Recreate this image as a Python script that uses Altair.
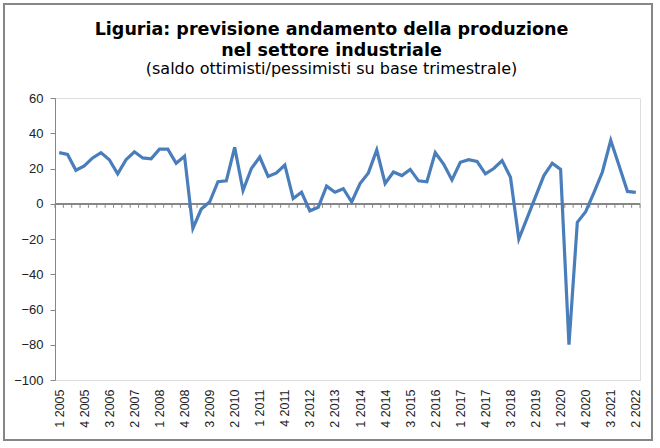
import altair as alt
import pandas as pd

# Quarterly balance (optimists minus pessimists), Q1 2005 - Q2 2022
years = list(range(2005, 2023))
quarters = [f"{q} {y}" for y in years for q in (1, 2, 3, 4)][:70]
saldo = [
    29, 28, 19, 21.5, 26, 29, 25, 17, 25, 29.5,
    26, 25.5, 31, 31, 23, 27, -14, -3, 1, 12.5,
    13, 32, 7.5, 20, 26.5, 15.5, 17.5, 22, 3, 6.5,
    -4, -2, 10, 6.5, 8.5, 1, 11.5, 17.5, 30.5, 11.5,
    18, 16, 19.5, 13, 12.5, 29, 22.5, 13.5, 23.5, 25,
    24, 17, 20, 24.5, 15, -20, -8, 4, 16, 23,
    19.5, -80, -10.5, -4.5, 6.5, 18, 36, 21.5, 7, 6.5,
]
y_ticks = [-100, -80, -60, -40, -20, 0, 20, 40, 60]
shown_labels = list(range(0, len(quarters), 3))

df = pd.DataFrame({"i": range(len(quarters)), "trimestre": quarters, "saldo": saldo})
edges = pd.DataFrame({"b": [k - 0.5 for k in range(len(quarters) + 1)]})

GRID = "#868686"
label_js = "[" + ",".join(f"'{q}'" for q in quarters) + "]"

x_scale = alt.Scale(domain=[-0.5, len(quarters) - 0.5], nice=False, zero=False)
y_scale = alt.Scale(domain=[-100, 60], nice=False)

x_axis = alt.Axis(
    values=shown_labels,
    tickCount=len(shown_labels),
    labelExpr=f"{label_js}[datum.value]",
    labelAngle=270,
    labelOverlap=False,
    labelFont="Liberation Sans",
    labelFontSize=12.5,
    labelColor="#222222",
    labelPadding=9,
    ticks=False,
    domain=False,
    grid=False,
    title=None,
)
y_axis = alt.Axis(
    values=y_ticks,
    tickCount=len(y_ticks),
    labelOverlap=False,
    labelFont="Liberation Sans",
    labelFontSize=13,
    labelColor="#222222",
    labelPadding=7,
    tickSize=5,
    tickColor=GRID,
    domainColor=GRID,
    gridColor=GRID,
    gridWidth=1,
    title=None,
)

line = alt.Chart(df).mark_line(color="#4a7ebb", strokeWidth=3.2, strokeJoin="miter").encode(
    x=alt.X("i:Q", scale=x_scale, axis=x_axis),
    y=alt.Y("saldo:Q", scale=y_scale, axis=y_axis),
)

zero_line = alt.Chart(df).mark_rule(color=GRID, strokeWidth=1).encode(y=alt.datum(0))

zero_ticks = alt.Chart(edges).mark_rule(color=GRID, strokeWidth=1).encode(
    x=alt.X("b:Q", scale=x_scale),
    y=alt.datum(0),
    y2=alt.datum(-2.3),
)

frame = alt.Chart(df).mark_rect(fill=None, stroke=GRID, strokeWidth=1.5).encode(
    x=alt.value(-51), x2=alt.value(597), y=alt.value(-94), y2=alt.value(342)
)

chart = (
    alt.layer(zero_line, zero_ticks, line, frame)
    .properties(
        width=585,
        height=282,
        padding={"left": 55, "top": 98, "right": 20, "bottom": 68},
        autosize=alt.AutoSizeParams(type="none"),
        title=alt.TitleParams(
            text=["Liguria: previsione andamento della produzione", "nel settore industriale"],
            subtitle="(saldo ottimisti/pessimisti su base trimestrale)",
            font="DejaVu Sans",
            fontSize=17.5,
            fontWeight="bold",
            lineHeight=21,
            color="#000000",
            subtitleFont="DejaVu Sans",
            subtitleFontSize=16,
            subtitleColor="#000000",
            subtitlePadding=2,
            anchor="middle",
            frame="group",
            dx=-16,
            offset=-74,
        ),
    )
    .configure_view(stroke=None)
    .configure(background="white")
)

chart.save("out.html", embed_options={"renderer": "svg", "actions": False})
